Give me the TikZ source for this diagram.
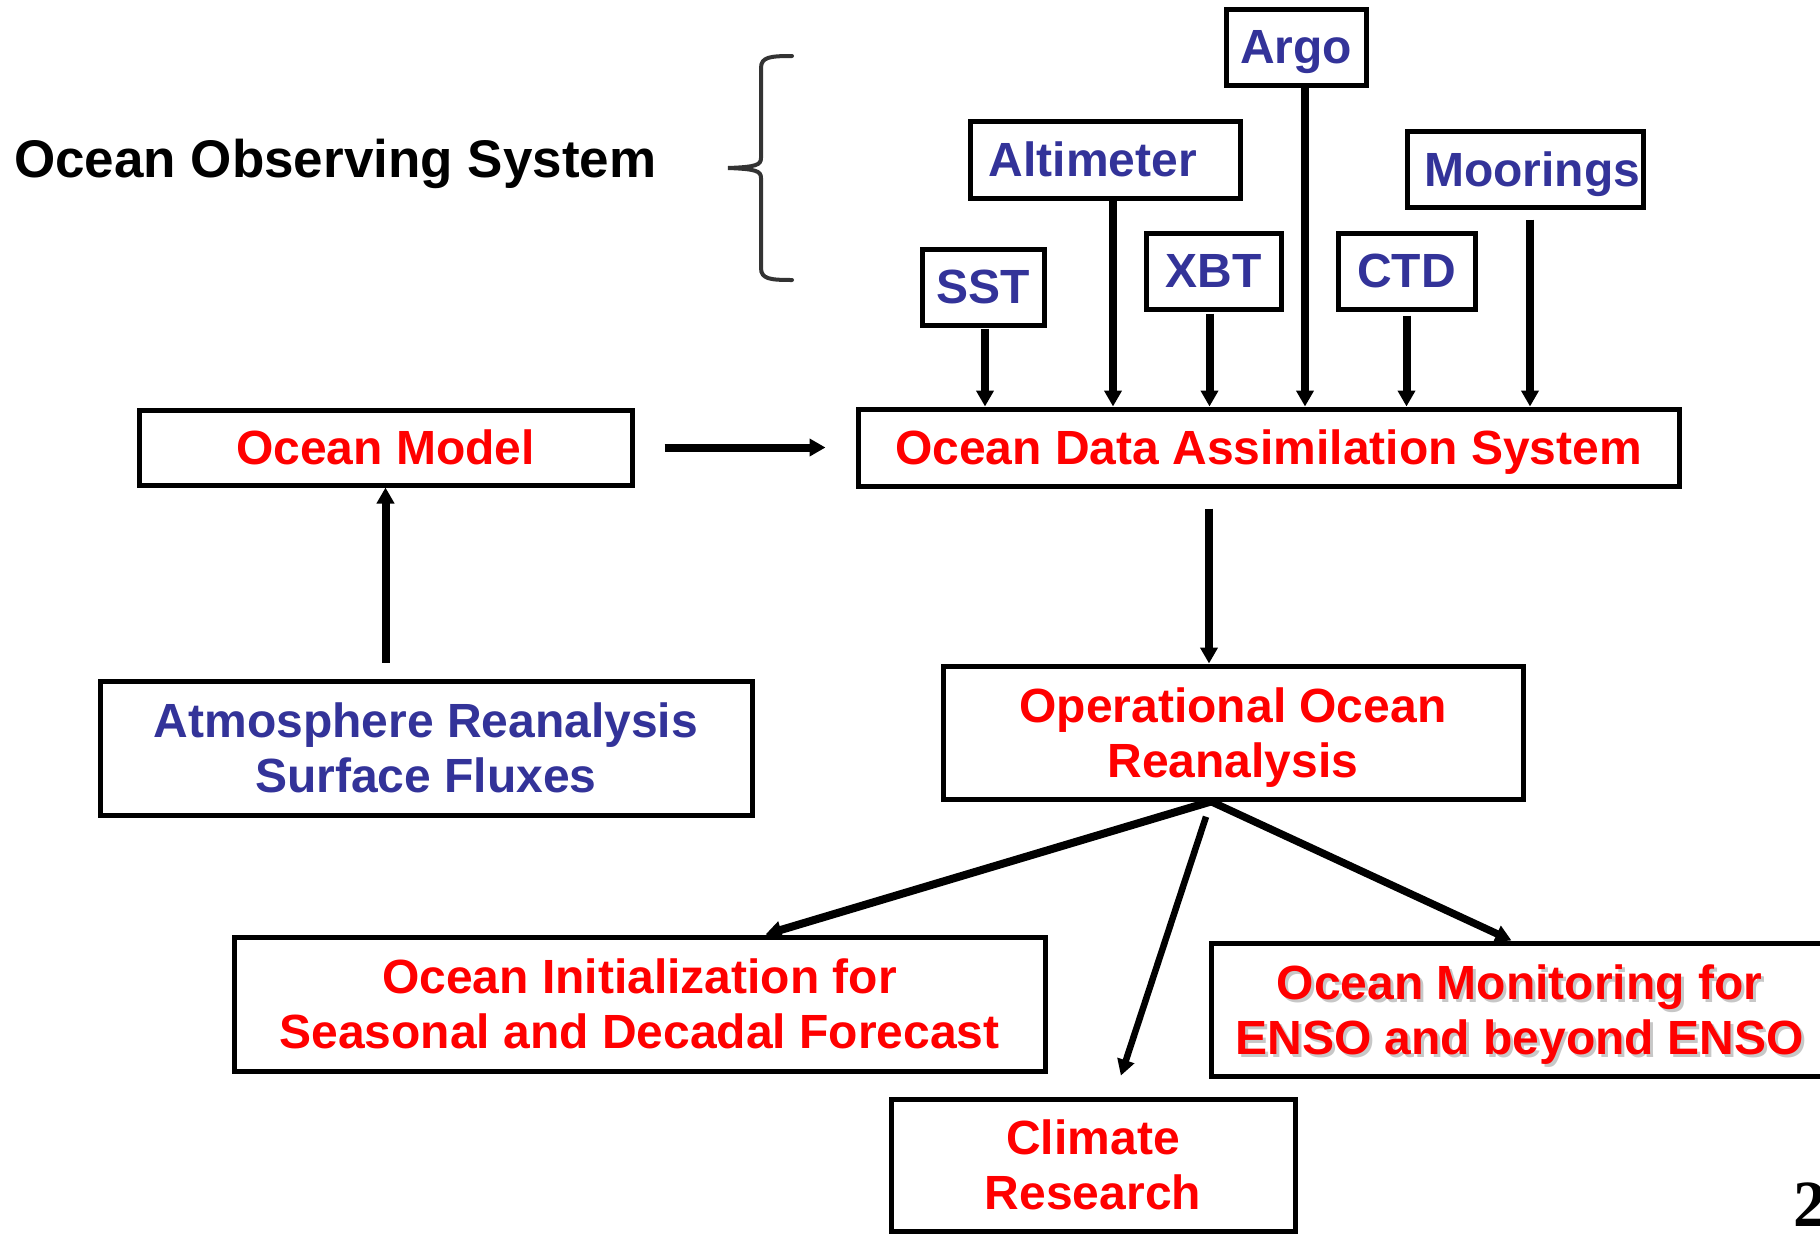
\documentclass[tikz,border=0pt]{standalone}
\usepackage{fontspec}
\setmainfont{Liberation Sans}
\newfontfamily\numfont{Liberation Serif}
\usetikzlibrary{arrows.meta}

\definecolor{obsblue}{RGB}{51,51,153}
\definecolor{braceg}{RGB}{51,51,51}
\newcommand\shadowed[1]{\makebox[0pt][l]{\kern3pt\raisebox{-3pt}{\color{black!22}#1}}#1}

\begin{document}
\begin{tikzpicture}[x=1pt,y=-1pt,
  font=\fontsize{48}{55}\selectfont\bfseries,
  box/.style={draw=black, line width=5pt, rectangle, inner sep=0pt, align=center, text depth=0pt},
  redbox/.style={box, text=red},
  bluebox/.style={box, text=obsblue},
  feed/.style={line width=8pt, -{Triangle[length=16pt,width=17pt]}},
  flow/.style={line width=#1, -{Triangle[length=16pt,width=17pt]}}]
\useasboundingbox (0,0) rectangle (1820,1235);

% observing system
\node[anchor=base west, inner sep=0pt, font=\fontsize{53}{60}\selectfont\bfseries] (title) at (14,177) {Ocean Observing System};
\draw[braceg, line width=4pt, line cap=round] (792,56) .. controls (770,56) and (761,57) .. (761,68) -- (761,158)
  .. controls (761,165) and (756,167) .. (728,168) .. controls (756,169) and (761,171) .. (761,178) -- (761,268)
  .. controls (761,279) and (770,280) .. (792,280);

\node[bluebox, minimum width=140pt, minimum height=76pt] (argo) at (1296,47) {Argo};
\node[bluebox, minimum width=270pt, minimum height=77pt] (alt) at (1105,159.5) {Altimeter\hspace*{24pt}};
\node[bluebox, minimum width=236pt, minimum height=76pt] (moor) at (1525,169) {\hspace*{14pt}Moorings};
\node[bluebox, minimum width=122pt, minimum height=76pt] (sst) at (983,287) {SST};
\node[bluebox, minimum width=135pt, minimum height=76pt] (xbt) at (1213.5,271) {XBT};
\node[bluebox, minimum width=137pt, minimum height=76pt] (ctd) at (1406.5,271) {CTD};

% models and products
\node[redbox, minimum width=821pt, minimum height=77pt] (odas) at (1268.5,447.5) {Ocean Data Assimilation System};
\node[redbox, minimum width=493pt, minimum height=75pt] (model) at (385.5,447.5) {Ocean Model};
\node[bluebox, minimum width=652pt, minimum height=134pt] (atmos) at (426,748) {Atmosphere Reanalysis\\Surface Fluxes};
\node[redbox, minimum width=580pt, minimum height=133pt] (oor) at (1233,732.5) {Operational Ocean\\Reanalysis};
\node[redbox, minimum width=811pt, minimum height=134pt] (init) at (639.5,1004) {Ocean Initialization for\\Seasonal and Decadal Forecast};
\node[redbox, minimum width=617pt, minimum height=133pt] (mon) at (1519.5,1009.5) {\shadowed{Ocean Monitoring for}\\\shadowed{ENSO and beyond ENSO}};
\node[redbox, minimum width=404pt, minimum height=132pt] (clim) at (1093,1165) {Climate\\Research};

\node[anchor=base west, inner sep=0pt, font=\numfont\fontsize{66}{66}\selectfont\bfseries] (page) at (1793,1226) {2};

% arrows
\foreach \src/\dx/\gap in {sst/2pt/1pt, alt/8pt/0pt, xbt/-4pt/2pt, argo/9pt/0pt, ctd/0pt/4pt, moor/5pt/10pt}
  \draw[feed, shorten <=\gap] ([xshift=\dx]\src.south) -- ([xshift=\dx]\src.south |- odas.north);

\draw[flow=8pt, shorten <=30pt, shorten >=30pt] (model) -- (odas);
\draw[flow=8pt, shorten <=16pt] (model.south |- atmos.north) -- (model.south);
\draw[flow=8pt, shorten <=20pt] ([xshift=-24pt]oor.north |- odas.south) -- ([xshift=-24pt]oor.north);

\coordinate (fork) at ([xshift=-22pt]oor.south);
\draw[flow=8pt] (fork) -- ([xshift=126pt]init.north);
\draw[flow=7.5pt] (fork) -- ([xshift=-8pt]mon.north);
\draw[flow=6.5pt, shorten <=16pt, shorten >=22pt] (fork) -- ([xshift=21pt]clim.north);

\end{tikzpicture}
\end{document}
